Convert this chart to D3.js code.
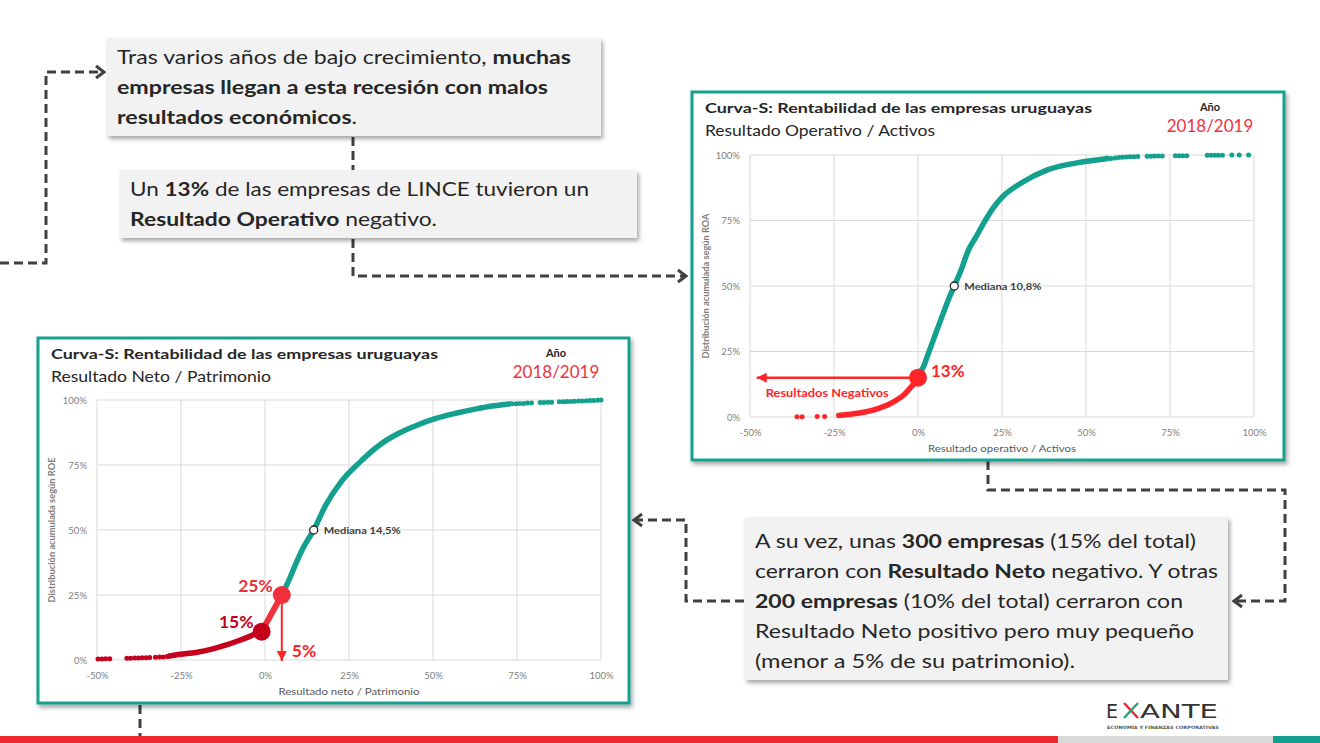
<!DOCTYPE html>
<html>
<head>
<meta charset="utf-8">
<script src="https://cdn.jsdelivr.net/npm/d3@7"></script>
<style>
  body { margin: 0; background: #fff; }
  svg { display: block; font-family: Lato, "Open Sans", sans-serif; }
</style>
</head>
<body>
<div id="chart"></div>
<script>
// ---- data ----
var xTicks = [-0.5, -0.25, 0, 0.25, 0.5, 0.75, 1];
var yTicks = [0, 0.25, 0.5, 0.75, 1];

// Resultado operativo / Activos (ROA)
var roaLowX = [-0.36, -0.345, -0.30, -0.278];
var roaLowY = [0.001, 0.001, 0.002, 0.002];
var roaNegX = [-0.236, -0.175, -0.119, -0.074, -0.04, -0.012, -0.002];
var roaNegY = [0.006, 0.015, 0.032, 0.057, 0.087, 0.127, 0.14];
var roaPosX = [0.004, 0.016, 0.027, 0.049, 0.071, 0.094, 0.108, 0.128, 0.15, 0.173, 0.195, 0.223, 0.251, 0.306, 0.385, 0.497, 0.564];
var roaPosY = [0.17, 0.191, 0.229, 0.306, 0.382, 0.459, 0.50, 0.56, 0.637, 0.688, 0.739, 0.796, 0.84, 0.892, 0.943, 0.975, 0.987];
var roaHighX = [0.575, 0.587, 0.598, 0.609, 0.62, 0.631, 0.643, 0.654, 0.682, 0.693, 0.704, 0.715, 0.727, 0.766, 0.777, 0.788, 0.80, 0.861, 0.872, 0.883, 0.894, 0.906, 0.934, 0.956, 0.984];
var roaHighY = [0.987, 0.989, 0.99, 0.991, 0.992, 0.993, 0.993, 0.994, 0.995, 0.995, 0.996, 0.996, 0.996, 0.997, 0.997, 0.997, 0.997, 0.999, 0.999, 0.999, 0.999, 0.999, 1, 1, 1];
var roaMedian = [0.108, 0.50];
var roaMark = [0, 0.15];

// Resultado neto / Patrimonio (ROE)
var roeLowX = [-0.497, -0.485, -0.474, -0.462, -0.411, -0.40, -0.388, -0.377, -0.366, -0.354, -0.343, -0.326, -0.314, -0.303, -0.291];
var roeLowY = [0.004, 0.004, 0.005, 0.005, 0.007, 0.007, 0.008, 0.008, 0.009, 0.009, 0.010, 0.011, 0.012, 0.012, 0.013];
var roeNegX = [-0.286, -0.252, -0.206, -0.161, -0.115, -0.081, -0.047, -0.012];
var roeNegY = [0.015, 0.022, 0.029, 0.041, 0.058, 0.073, 0.09, 0.109];
var roePosX = [0.05, 0.067, 0.09, 0.113, 0.145, 0.181, 0.227, 0.284, 0.341, 0.398, 0.454, 0.511, 0.568, 0.625, 0.682, 0.728];
var roePosY = [0.25, 0.295, 0.365, 0.43, 0.50, 0.596, 0.686, 0.763, 0.827, 0.872, 0.904, 0.93, 0.949, 0.965, 0.978, 0.985];
var roeHighX = [0.735, 0.747, 0.758, 0.77, 0.781, 0.793, 0.819, 0.83, 0.842, 0.853, 0.876, 0.888, 0.899, 0.91, 0.921, 0.933, 0.944, 0.956, 0.967, 0.978, 0.99, 1.0];
var roeHighY = [0.986, 0.986, 0.987, 0.987, 0.988, 0.988, 0.99, 0.99, 0.991, 0.991, 0.993, 0.993, 0.994, 0.994, 0.995, 0.996, 0.996, 0.997, 0.998, 0.998, 0.999, 1.0];
var roeMedian = [0.145, 0.50];
var roeMark15 = [-0.01, 0.109];
var roeMark25 = [0.05, 0.25];

var teal = "#13a08f";
var red = "#ff2428";
var darkRed = "#c4001c";
var grey = "#404040";

var svg = d3.select("#chart").append("svg")
    .attr("width", 1320)
    .attr("height", 743);

var defs = svg.append("defs");
var shadow = defs.append("filter").attr("id", "shadow")
    .attr("x", "-5%").attr("y", "-5%").attr("width", "115%").attr("height", "125%");
shadow.append("feDropShadow")
    .attr("dx", 2).attr("dy", 3).attr("stdDeviation", 2)
    .attr("flood-color", "#000").attr("flood-opacity", 0.35);

// chevron heads for the dashed connectors
defs.append("marker").attr("id", "chev")
    .attr("viewBox", "-10 -8 12 16").attr("refX", 0).attr("refY", 0)
    .attr("markerWidth", 12).attr("markerHeight", 16)
    .attr("markerUnits", "userSpaceOnUse").attr("orient", "auto")
    .append("path").attr("d", "M-8,-6L0,0L-8,6")
    .attr("fill", "none").attr("stroke", grey).attr("stroke-width", 3);

defs.append("marker").attr("id", "redHead")
    .attr("viewBox", "-10 -6 12 12").attr("refX", 0).attr("refY", 0)
    .attr("markerWidth", 12).attr("markerHeight", 12)
    .attr("markerUnits", "userSpaceOnUse").attr("orient", "auto")
    .append("path").attr("d", "M-10,-5L0,0L-10,5Z").attr("fill", red);

///////////
// Connectors
///////////
var connectors = [
  { pts: [[0, 263], [46, 263], [46, 72], [104, 72]], head: true },
  { pts: [[353, 137], [353, 170]], head: false },
  { pts: [[353, 239], [353, 276], [686, 276]], head: true },
  { pts: [[988, 461], [988, 490], [1285, 490], [1285, 601], [1234, 601]], head: true },
  { pts: [[744, 601], [686, 601], [686, 520], [634, 520]], head: true },
  { pts: [[140, 705], [140, 743]], head: false }
];
svg.append("g").selectAll("path").data(connectors).enter().append("path")
    .attr("d", function(d) { return d3.line()(d.pts); })
    .attr("fill", "none")
    .attr("stroke", grey)
    .attr("stroke-width", 3)
    .attr("stroke-dasharray", "9,5")
    .attr("marker-end", function(d) { return d.head ? "url(#chev)" : null; });

///////////
// Text boxes
///////////
function textBox(box) {
  svg.append("rect")
      .attr("x", box.x).attr("y", box.y)
      .attr("width", box.w).attr("height", box.h)
      .attr("fill", "#f2f2f2")
      .attr("filter", "url(#shadow)");
  box.lines.forEach(function(line, i) {
    var t = svg.append("text")
        .attr("x", box.x + box.pad)
        .attr("y", box.y + box.top + i * box.lh)
        .attr("font-size", 19)
        .attr("fill", "#262626");
    line.forEach(function(part) {
      t.append("tspan")
          .attr("font-weight", part[1] ? "bold" : "normal")
          .text(part[0]);
    });
    if (box.widths) {
      t.attr("textLength", box.widths[i]).attr("lengthAdjust", "spacingAndGlyphs");
    }
  });
}

textBox({
  x: 107, y: 38, w: 494, h: 98, pad: 10, top: 26, lh: 30,
  widths: [454, 431, 240],
  lines: [
    [["Tras varios años de bajo crecimiento, ", 0], ["muchas", 1]],
    [["empresas llegan a esta recesión con malos", 1]],
    [["resultados económicos", 1], [".", 0]]
  ]
});

textBox({
  x: 120, y: 170, w: 517, h: 68, pad: 10, top: 26, lh: 30,
  widths: [459, 307],
  lines: [
    [["Un ", 0], ["13%", 1], [" de las empresas de LINCE tuvieron un", 0]],
    [["Resultado Operativo", 1], [" negativo.", 0]]
  ]
});

textBox({
  x: 745, y: 517, w: 483, h: 163, pad: 10, top: 31, lh: 30,
  widths: [441, 463, 428, 439, 320],
  lines: [
    [["A su vez, unas ", 0], ["300 empresas", 1], [" (15% del total)", 0]],
    [["cerraron con ", 0], ["Resultado Neto", 1], [" negativo. Y otras", 0]],
    [["200 empresas", 1], [" (10% del total) cerraron con", 0]],
    [["Resultado Neto positivo pero muy pequeño", 0]],
    [["(menor a 5% de su patrimonio).", 0]]
  ]
});

///////////
// S-curve panels
///////////
function zip(xs, ys) {
  return xs.map(function(x, i) { return [x, ys[i]]; });
}

function pct(d) {
  return Math.round(d * 100) + "%";
}

function panel(p) {
  var g = svg.append("g");
  g.append("rect")
      .attr("x", p.x).attr("y", p.y).attr("width", p.w).attr("height", p.h)
      .attr("fill", "#fff").attr("stroke", teal).attr("stroke-width", 3)
      .attr("filter", "url(#shadow)");

  g.append("text").attr("x", p.x + 13).attr("y", p.y + 21)
      .attr("font-size", 14).attr("font-weight", "bold").attr("fill", "#262626")
      .attr("textLength", 387).attr("lengthAdjust", "spacingAndGlyphs")
      .text("Curva-S: Rentabilidad de las empresas uruguayas");
  g.append("text").attr("x", p.x + 13).attr("y", p.y + 44)
      .attr("font-size", 15).attr("fill", "#262626")
      .attr("textLength", p.subW).attr("lengthAdjust", "spacingAndGlyphs")
      .text(p.subtitle);
  g.append("text").attr("x", p.x + 518).attr("y", p.y + 19)
      .attr("font-size", 11).attr("font-weight", "bold").attr("fill", "#262626")
      .attr("text-anchor", "middle").text("Año");
  g.append("text").attr("x", p.x + 518).attr("y", p.y + 40)
      .attr("font-size", 17).attr("fill", "#f0323c")
      .attr("text-anchor", "middle").text("2018/2019");

  var x = d3.scaleLinear().domain([-0.5, 1]).range(p.xr);
  var y = d3.scaleLinear().domain([0, 1]).range(p.yr);

  // grid
  g.append("g").selectAll("line").data(xTicks).enter().append("line")
      .attr("x1", function(d) { return x(d); }).attr("x2", function(d) { return x(d); })
      .attr("y1", p.yr[0]).attr("y2", p.yr[1])
      .attr("stroke", "#d9d9d9").attr("stroke-width", 1);
  g.append("g").selectAll("line").data(yTicks).enter().append("line")
      .attr("x1", p.xr[0]).attr("x2", p.xr[1])
      .attr("y1", function(d) { return y(d); }).attr("y2", function(d) { return y(d); })
      .attr("stroke", "#d9d9d9").attr("stroke-width", 1);

  var xAxis = d3.axisBottom(x).tickValues(xTicks).tickFormat(pct).tickSize(0).tickPadding(12);
  var yAxis = d3.axisLeft(y).tickValues(yTicks).tickFormat(pct).tickSize(0).tickPadding(10);
  var xa = g.append("g").attr("transform", "translate(0," + p.yr[0] + ")").call(xAxis);
  var ya = g.append("g").attr("transform", "translate(" + p.xr[0] + ",0)").call(yAxis);
  [xa, ya].forEach(function(a) {
    a.select(".domain").remove();
    a.selectAll("text").attr("font-size", 9.5).attr("fill", "#7f7f7f")
        .attr("font-family", "Lato, sans-serif");
  });

  g.append("text")
      .attr("x", (p.xr[0] + p.xr[1]) / 2).attr("y", p.yr[0] + 35)
      .attr("text-anchor", "middle").attr("font-size", 10).attr("fill", "#595959")
      .attr("textLength", p.xTitleW).attr("lengthAdjust", "spacingAndGlyphs")
      .text(p.xTitle);
  g.append("text")
      .attr("transform", "translate(" + (p.x + 17) + "," + ((p.yr[0] + p.yr[1]) / 2) + ")rotate(-90)")
      .attr("text-anchor", "middle").attr("font-size", 9).attr("font-weight", "bold")
      .attr("fill", "#7f7f7f")
      .attr("textLength", 145).attr("lengthAdjust", "spacingAndGlyphs")
      .text(p.yTitle);

  var line = d3.line()
      .x(function(d) { return x(d[0]); })
      .y(function(d) { return y(d[1]); })
      .curve(d3.curveMonotoneX);

  // sparse dots at both tails
  g.append("g").selectAll("circle").data(zip(p.lowX, p.lowY)).enter().append("circle")
      .attr("cx", function(d) { return x(d[0]); }).attr("cy", function(d) { return y(d[1]); })
      .attr("r", 2.5).attr("fill", p.negColor);
  g.append("g").selectAll("circle").data(zip(p.highX, p.highY)).enter().append("circle")
      .attr("cx", function(d) { return x(d[0]); }).attr("cy", function(d) { return y(d[1]); })
      .attr("r", 2.5).attr("fill", teal);

  g.append("path").datum(zip(p.negX, p.negY)).attr("d", line)
      .attr("fill", "none").attr("stroke", p.negColor).attr("stroke-width", 5.5)
      .attr("stroke-linecap", "round");
  g.append("path").datum(zip(p.posX, p.posY)).attr("d", line)
      .attr("fill", "none").attr("stroke", teal).attr("stroke-width", 5.5)
      .attr("stroke-linecap", "round");

  // median
  g.append("circle").attr("cx", x(p.median[0])).attr("cy", y(p.median[1]))
      .attr("r", 4).attr("fill", "#fff").attr("stroke", "#262626").attr("stroke-width", 1.3);
  g.append("text").attr("x", x(p.median[0]) + 10).attr("y", y(p.median[1]) + 3.5)
      .attr("font-size", 10).attr("font-weight", "bold").attr("fill", "#404040")
      .attr("textLength", 77).attr("lengthAdjust", "spacingAndGlyphs")
      .text("Mediana " + d3.format(".1f")(p.median[0] * 100).replace(".", ",") + "%");

  return { g: g, x: x, y: y };
}

// top-right: ROA
var roa = panel({
  x: 692, y: 92, w: 592, h: 368, xr: [750, 1254], yr: [417, 155],
  subtitle: "Resultado  Operativo / Activos", subW: 230,
  xTitle: "Resultado operativo / Activos", xTitleW: 148,
  yTitle: "Distribución acumulada según ROA",
  lowX: roaLowX, lowY: roaLowY, negX: roaNegX, negY: roaNegY,
  posX: roaPosX, posY: roaPosY, highX: roaHighX, highY: roaHighY,
  median: roaMedian, negColor: red
});
roa.g.append("line")
    .attr("x1", roa.x(roaMark[0])).attr("x2", roa.x(-0.48))
    .attr("y1", roa.y(roaMark[1])).attr("y2", roa.y(roaMark[1]))
    .attr("stroke", red).attr("stroke-width", 2.5).attr("marker-end", "url(#redHead)");
roa.g.append("circle").attr("cx", roa.x(roaMark[0])).attr("cy", roa.y(roaMark[1]))
    .attr("r", 9).attr("fill", red);
roa.g.append("text").attr("x", roa.x(roaMark[0]) + 13).attr("y", roa.y(roaMark[1]) - 1)
    .attr("font-size", 17).attr("font-weight", "bold").attr("fill", red).text("13%");
roa.g.append("text").attr("x", roa.x(-0.27)).attr("y", roa.y(0.08) + 1)
    .attr("text-anchor", "middle")
    .attr("font-size", 11.5).attr("font-weight", "bold").attr("fill", red)
    .attr("textLength", 123).attr("lengthAdjust", "spacingAndGlyphs")
    .text("Resultados Negativos");

// bottom-left: ROE
var roe = panel({
  x: 38, y: 338, w: 591, h: 365, xr: [97, 601], yr: [660, 400],
  subtitle: "Resultado  Neto / Patrimonio", subW: 220,
  xTitle: "Resultado neto / Patrimonio", xTitleW: 141,
  yTitle: "Distribución acumulada según ROE",
  lowX: roeLowX, lowY: roeLowY, negX: roeNegX, negY: roeNegY,
  posX: roePosX, posY: roePosY, highX: roeHighX, highY: roeHighY,
  median: roeMedian, negColor: darkRed
});
roe.g.append("line")
    .attr("x1", roe.x(roeMark15[0])).attr("y1", roe.y(roeMark15[1]))
    .attr("x2", roe.x(roeMark25[0])).attr("y2", roe.y(roeMark25[1]))
    .attr("stroke", "#f0303a").attr("stroke-width", 6);
roe.g.append("line")
    .attr("x1", roe.x(roeMark25[0])).attr("x2", roe.x(roeMark25[0]))
    .attr("y1", roe.y(roeMark25[1])).attr("y2", roe.y(0) + 1)
    .attr("stroke", red).attr("stroke-width", 2).attr("marker-end", "url(#redHead)");
roe.g.append("circle").attr("cx", roe.x(roeMark25[0])).attr("cy", roe.y(roeMark25[1]))
    .attr("r", 9).attr("fill", "#f0303a");
roe.g.append("circle").attr("cx", roe.x(roeMark15[0])).attr("cy", roe.y(roeMark15[1]))
    .attr("r", 9).attr("fill", darkRed);
roe.g.append("text").attr("x", roe.x(roeMark25[0]) - 9).attr("y", roe.y(roeMark25[1]) - 3)
    .attr("text-anchor", "end").attr("font-size", 17.5).attr("font-weight", "bold")
    .attr("fill", "#f0303a").text("25%");
roe.g.append("text").attr("x", roe.x(roeMark15[0]) - 8).attr("y", roe.y(roeMark15[1]) - 4)
    .attr("text-anchor", "end").attr("font-size", 17.5).attr("font-weight", "bold")
    .attr("fill", darkRed).text("15%");
roe.g.append("text").attr("x", roe.x(roeMark25[0]) + 10).attr("y", roe.y(0) - 3)
    .attr("font-size", 17.5).attr("font-weight", "bold").attr("fill", red).text("5%");

///////////
// Logo and bottom band
///////////
var logo = svg.append("g").attr("fill", "#333").attr("font-size", 19)
    .attr("font-family", "DejaVu Sans, sans-serif");
logo.append("text").attr("x", 1106).attr("y", 718).text("E");
logo.append("line").attr("x1", 1124).attr("y1", 703).attr("x2", 1138).attr("y2", 718)
    .attr("stroke", "#e8262f").attr("stroke-width", 2.4);
logo.append("line").attr("x1", 1138).attr("y1", 703).attr("x2", 1124).attr("y2", 718)
    .attr("stroke", "#2e9e6e").attr("stroke-width", 2.4);
logo.append("text").attr("x", 1140).attr("y", 718)
    .attr("textLength", 78).attr("lengthAdjust", "spacingAndGlyphs").text("ANTE");
logo.append("text").attr("x", 1107).attr("y", 729)
    .attr("font-size", 4.5).attr("font-weight", "bold").attr("fill", "#555")
    .attr("textLength", 112).attr("lengthAdjust", "spacingAndGlyphs")
    .text("ECONOMÍA Y FINANZAS CORPORATIVAS");

var band = [
  { x0: 0, x1: 1058, c: "#ee2730" },
  { x0: 1058, x1: 1273, c: "#d9d9d9" },
  { x0: 1273, x1: 1320, c: teal }
];
svg.append("g").selectAll("rect").data(band).enter().append("rect")
    .attr("x", function(d) { return d.x0; }).attr("y", 736)
    .attr("width", function(d) { return d.x1 - d.x0; }).attr("height", 7)
    .attr("fill", function(d) { return d.c; });
</script>
</body>
</html>
